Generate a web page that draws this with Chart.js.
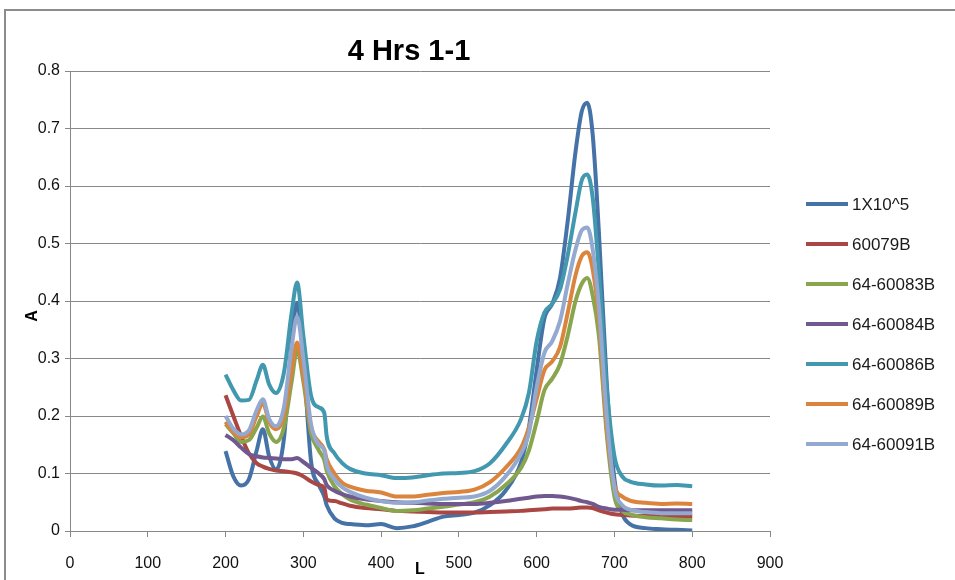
<!DOCTYPE html>
<html>
<head>
<meta charset="utf-8">
<script src="https://cdn.jsdelivr.net/npm/chart.js@4"></script>
<style>
  body { margin: 0; background: #fff; }
</style>
</head>
<body>
<canvas id="spectra" width="955" height="580"></canvas>
<script>
// wavelength grid (nm)
let wavelengths = [200, 210, 220, 230, 240, 248, 256, 265, 275, 285, 292, 300, 310, 320, 327, 330, 340, 350, 360, 380,
    400, 420, 440, 460, 480, 500, 520, 540, 560, 580, 590, 600, 610, 620, 630, 640, 650, 658, 665, 672,
    680, 690, 700, 710, 720, 740, 760, 780, 800];

let seriesNames = ['1X10^5', '60079B', '64-60083B', '64-60084B', '64-60086B', '64-60089B', '64-60091B'];

let a1x10_5 = [0.139, 0.095, 0.079, 0.090, 0.140, 0.177, 0.130, 0.107, 0.160, 0.330, 0.397, 0.300, 0.120, 0.080, 0.060, 0.045, 0.022, 0.014, 0.012, 0.010,
    0.012, 0.005, 0.008, 0.016, 0.025, 0.028, 0.032, 0.045, 0.070, 0.120, 0.180, 0.280, 0.370, 0.395, 0.440, 0.540, 0.660, 0.730, 0.745, 0.690,
    0.520, 0.260, 0.090, 0.030, 0.012, 0.005, 0.003, 0.002, 0.001];
let a60079B = [0.236, 0.200, 0.165, 0.135, 0.118, 0.112, 0.108, 0.105, 0.104, 0.102, 0.100, 0.095, 0.086, 0.080, 0.075, 0.055, 0.052, 0.048, 0.044, 0.040,
    0.038, 0.035, 0.034, 0.033, 0.032, 0.032, 0.032, 0.033, 0.034, 0.035, 0.036, 0.037, 0.038, 0.039, 0.039, 0.039, 0.040, 0.041, 0.041, 0.040,
    0.036, 0.032, 0.029, 0.028, 0.027, 0.026, 0.026, 0.026, 0.026];
let a60083B = [0.186, 0.170, 0.155, 0.158, 0.180, 0.199, 0.170, 0.155, 0.180, 0.260, 0.315, 0.260, 0.170, 0.140, 0.123, 0.105, 0.078, 0.064, 0.055, 0.046,
    0.040, 0.035, 0.036, 0.039, 0.042, 0.046, 0.050, 0.060, 0.080, 0.110, 0.140, 0.190, 0.245, 0.265, 0.290, 0.340, 0.400, 0.430, 0.440, 0.410,
    0.340, 0.170, 0.060, 0.035, 0.029, 0.024, 0.022, 0.020, 0.019];
let a60084B = [0.167, 0.158, 0.145, 0.134, 0.130, 0.128, 0.127, 0.126, 0.125, 0.125, 0.127, 0.120, 0.110, 0.100, 0.090, 0.080, 0.070, 0.064, 0.060, 0.055,
    0.052, 0.050, 0.049, 0.048, 0.047, 0.047, 0.047, 0.049, 0.052, 0.056, 0.058, 0.060, 0.061, 0.061, 0.060, 0.058, 0.055, 0.052, 0.050, 0.047,
    0.042, 0.039, 0.037, 0.037, 0.036, 0.036, 0.036, 0.036, 0.036];
let a60086B = [0.272, 0.245, 0.227, 0.228, 0.262, 0.289, 0.255, 0.240, 0.275, 0.380, 0.432, 0.340, 0.235, 0.215, 0.205, 0.165, 0.135, 0.118, 0.108, 0.100,
    0.097, 0.092, 0.093, 0.097, 0.100, 0.101, 0.104, 0.118, 0.150, 0.195, 0.240, 0.330, 0.380, 0.395, 0.420, 0.480, 0.555, 0.610, 0.620, 0.580,
    0.450, 0.250, 0.130, 0.095, 0.086, 0.081, 0.079, 0.080, 0.078];
let a60089B = [0.190, 0.172, 0.163, 0.168, 0.200, 0.222, 0.190, 0.177, 0.200, 0.280, 0.328, 0.270, 0.180, 0.155, 0.142, 0.125, 0.100, 0.084, 0.077, 0.070,
    0.067, 0.060, 0.060, 0.063, 0.066, 0.068, 0.072, 0.085, 0.110, 0.145, 0.180, 0.230, 0.280, 0.295, 0.320, 0.380, 0.445, 0.478, 0.485, 0.455,
    0.370, 0.180, 0.080, 0.060, 0.053, 0.049, 0.047, 0.048, 0.047];
let a60091B = [0.200, 0.178, 0.168, 0.175, 0.210, 0.229, 0.195, 0.182, 0.215, 0.320, 0.373, 0.300, 0.185, 0.150, 0.140, 0.115, 0.090, 0.076, 0.068, 0.058,
    0.052, 0.049, 0.050, 0.053, 0.056, 0.058, 0.060, 0.070, 0.095, 0.135, 0.170, 0.250, 0.310, 0.330, 0.365, 0.430, 0.490, 0.523, 0.528, 0.490,
    0.390, 0.200, 0.075, 0.045, 0.037, 0.033, 0.031, 0.031, 0.031];

let allSeries = [a1x10_5, a60079B, a60083B, a60084B, a60086B, a60089B, a60091B];
let colors = ['#4572A7', '#AA4643', '#89A54E', '#71588F', '#4198AF', '#DB843D', '#93A9CF'];

let xTicks = [0, 100, 200, 300, 400, 500, 600, 700, 800, 900];
let yTicks = [0, 0.1, 0.2, 0.3, 0.4, 0.5, 0.6, 0.7, 0.8];

let fontFamily = "'Liberation Sans', Arial, sans-serif";

let datasets = [];
for (var i = 0; i < allSeries.length; i++) {
    let pts = [];
    for (var j = 0; j < wavelengths.length; j++) {
        pts.push({x: wavelengths[j], y: allSeries[i][j]});
    }
    datasets.push({
        label: seriesNames[i],
        data: pts,
        borderColor: colors[i],
        backgroundColor: colors[i],
        borderWidth: 4,
        pointRadius: 0,
        cubicInterpolationMode: 'monotone',
        order: allSeries.length - i
    });
}

// frame, title, y title and legend drawn the way the spreadsheet chart shows them
let excelLook = {
    id: 'excelLook',
    beforeDraw(chart) {
        let ctx = chart.ctx;
        ctx.save();
        ctx.strokeStyle = '#8c8c8c';
        ctx.lineWidth = 2;
        ctx.beginPath();
        ctx.moveTo(5, 582);
        ctx.lineTo(5, 10);
        ctx.lineTo(960, 10);
        ctx.stroke();
        ctx.restore();
    },
    afterDraw(chart) {
        let ctx = chart.ctx;
        let area = chart.chartArea;
        ctx.save();
        ctx.fillStyle = '#000';
        ctx.font = "bold 29px " + fontFamily;
        ctx.textAlign = 'center';
        ctx.textBaseline = 'middle';
        ctx.fillText('4 Hrs 1-1', 409, 52);

        // y axis title
        ctx.save();
        ctx.translate(33, 316);
        ctx.rotate(-Math.PI / 2);
        ctx.font = "bold 16px " + fontFamily;
        ctx.fillText('A', 0, 0);
        ctx.restore();

        ctx.font = "17px " + fontFamily;
        ctx.textAlign = 'left';
        let lx = area.right + 36;
        let ly = area.top + 133;
        chart.data.datasets.forEach(function (ds, k) {
            let y = ly + k * 40;
            ctx.strokeStyle = ds.borderColor;
            ctx.lineWidth = 4;
            ctx.beginPath();
            ctx.moveTo(lx, y);
            ctx.lineTo(lx + 42, y);
            ctx.stroke();
            ctx.fillStyle = '#1a1a1a';
            ctx.fillText(ds.label, lx + 46, y + 1);
        });
        ctx.restore();
    }
};

let ctxS = document.getElementById('spectra').getContext('2d');
let chart = new Chart(ctxS, {
    type: 'line',
    data: { datasets: datasets },
    plugins: [excelLook],
    options: {
        responsive: false,
        animation: false,
        layout: { padding: { left: 5, top: 71, right: 185, bottom: 0 } },
        plugins: {
            legend: { display: false },
            title: { display: false },
            tooltip: { enabled: false }
        },
        scales: {
            x: {
                type: 'linear',
                min: 0,
                max: 900,
                afterBuildTicks: function (axis) { axis.ticks = xTicks.map(v => ({value: v})); },
                afterFit: function (axis) { axis.height = 49; },
                ticks: { color: '#111', font: { family: fontFamily, size: 16 }, padding: 17, maxRotation: 0 },
                grid: { drawOnChartArea: false, drawTicks: true, tickLength: 6, color: '#888' },
                border: { color: '#888', width: 1 },
                title: { display: true, text: 'L', color: '#000', font: { family: fontFamily, size: 16, weight: 'bold' }, padding: { top: 0, bottom: 1 } }
            },
            y: {
                min: 0,
                max: 0.8,
                afterBuildTicks: function (axis) { axis.ticks = yTicks.map(v => ({value: v})); },
                afterFit: function (axis) { axis.width = 65; },
                ticks: { color: '#111', font: { family: fontFamily, size: 16 }, padding: 5 },
                grid: { color: '#888', tickLength: 5, lineWidth: 1 },
                border: { color: '#888', width: 1 }
            }
        }
    }
});
</script>
</body>
</html>
